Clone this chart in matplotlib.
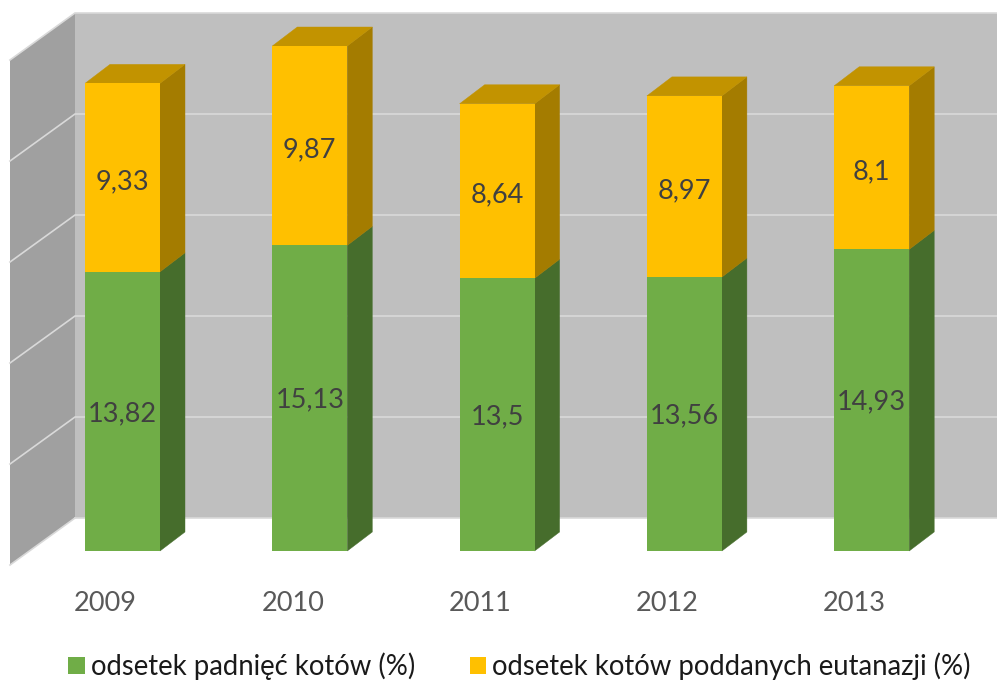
import numpy as np
import matplotlib
matplotlib.use("Agg")
import matplotlib.pyplot as plt
from matplotlib.patches import Polygon, Patch

plt.rcParams['font.family'] = ['Lato', 'DejaVu Sans']

years = ['2009', '2010', '2011', '2012', '2013']
padniecia = [13.82, 15.13, 13.5, 13.56, 14.93]
eutanazja = [9.33, 9.87, 8.64, 8.97, 8.1]
labels_pad = ['13,82', '15,13', '13,5', '13,56', '14,93']
labels_eut = ['9,33', '9,87', '8,64', '8,97', '8,1']
grid_values = [5, 10, 15, 20, 25]

# pixel scales of the picture
W, H = 997, 681
px_per_cat = 187.3
px_per_val = 20.2
x0_px = 122.5
base_px = 551

dx = 25 / px_per_cat      # bar depth
dy = 19 / px_per_val
bar_w = 75 / px_per_cat
wall_up = 33 / px_per_val   # back wall floor above bar front baseline
wall_x = (75 - x0_px) / px_per_cat
side_x = (10 - x0_px) / px_per_cat
side_dy = 47 / px_per_val


def shade(ax, x, bottom, top, side, cap=None):
    r = x + bar_w / 2
    l = x - bar_w / 2
    ax.add_patch(Polygon([(r, bottom), (r + dx, bottom + dy), (r + dx, top + dy), (r, top)],
                         fc=side, ec=side, lw=0.3, zorder=4))
    if cap:
        ax.add_patch(Polygon([(l, top), (l + dx, top + dy), (r + dx, top + dy), (r, top)],
                             fc=cap, ec=cap, lw=0.3, zorder=4))


fig = plt.figure(figsize=(W / 100, H / 100), dpi=100)
ax = fig.add_axes([0, 0, 1, 1])
ax.set_xlim(-x0_px / px_per_cat, (W - x0_px) / px_per_cat)
ax.set_ylim((base_px - H) / px_per_val, base_px / px_per_val)
ax.axis('off')

# walls
xmax = (W - x0_px) / px_per_cat
ax.add_patch(Polygon([(wall_x, wall_up), (xmax, wall_up), (xmax, wall_up + 25), (wall_x, wall_up + 25)],
                     fc='#bfbfbf', ec='none', zorder=1))
ax.add_patch(Polygon([(side_x, wall_up - side_dy), (wall_x, wall_up), (wall_x, wall_up + 25),
                      (side_x, wall_up + 25 - side_dy)],
                     fc='#a0a0a0', ec='none', zorder=1))
for g in grid_values:
    ax.plot([side_x, wall_x, xmax], [wall_up + g - side_dy, wall_up + g, wall_up + g],
            color='#d9d9d9', lw=1.2, zorder=2, solid_joinstyle='miter')
ax.plot([wall_x, xmax], [wall_up, wall_up], color='#d9d9d9', lw=1.2, zorder=2)
ax.plot([side_x, wall_x], [wall_up - side_dy, wall_up], color='#d9d9d9', lw=1.2, zorder=2)

# bars
x = np.arange(len(years))
ax.bar(x, padniecia, bar_w, color='#70ad47', zorder=5)
ax.bar(x, eutanazja, bar_w, bottom=padniecia, color='#ffc000', zorder=5)
for i in x:
    shade(ax, i, 0, padniecia[i], '#466d2c')
    shade(ax, i, padniecia[i], padniecia[i] + eutanazja[i], '#a47c00', cap='#c29300')
    ax.text(i, padniecia[i] / 2 - 0.1, labels_pad[i], ha='center', va='center',
            fontsize=19.5, color='#404040', zorder=6)
    ax.text(i, padniecia[i] + eutanazja[i] / 2 - 0.2, labels_eut[i], ha='center', va='center',
            fontsize=19.5, color='#404040', zorder=6)
    ax.text(i - 17 / px_per_cat, -52.5 / px_per_val, years[i], ha='center', va='center',
            fontsize=19.5, color='#595959')

handles = [Patch(fc='#70ad47', label='odsetek padnięć kotów (%)'),
           Patch(fc='#ffc000', label='odsetek kotów poddanych eutanazji (%)')]
ax.legend(handles=handles, ncol=2, frameon=False, loc='lower left',
          bbox_to_anchor=(68 / W, 1 / H), fontsize=19.8, labelcolor='#1a1a1a',
          handlelength=0.6, handleheight=0.6, handletextpad=0.22, columnspacing=2.0,
          borderpad=0, borderaxespad=0)

plt.savefig('out.png', dpi=100)
